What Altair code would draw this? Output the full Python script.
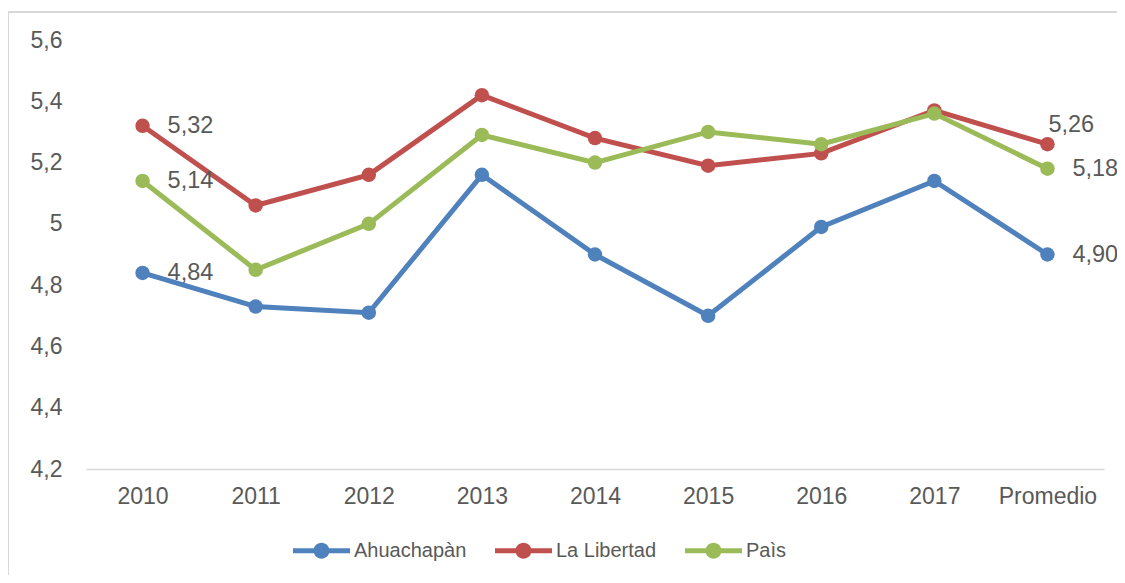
import altair as alt
import pandas as pd

categorias = ["2010", "2011", "2012", "2013", "2014", "2015", "2016", "2017", "Promedio"]
series = ["Ahuachapàn", "La Libertad", "Paìs"]
ahuachapan = [4.84, 4.73, 4.71, 5.16, 4.90, 4.70, 4.99, 5.14, 4.90]
la_libertad = [5.32, 5.06, 5.16, 5.42, 5.28, 5.19, 5.23, 5.37, 5.26]
pais = [5.14, 4.85, 5.00, 5.29, 5.20, 5.30, 5.26, 5.36, 5.18]
colores = ["#4F81BD", "#C0504D", "#9BBB59"]
y_ticks = [4.2, 4.4, 4.6, 4.8, 5.0, 5.2, 5.4, 5.6]

rows = []
for s, vals in zip(series, [ahuachapan, la_libertad, pais]):
    for c, v in zip(categorias, vals):
        rows.append({"anio": c, "serie": s, "valor": v})
df = pd.DataFrame(rows)

FONT = "Liberation Sans"
GRAY = "#595959"
W, H = 1018, 429
PAD_L, PAD_T, PAD_R, PAD_B = 78, 32, 13, 106

x_enc = alt.X("anio:N", sort=categorias,
              scale=alt.Scale(type="point", padding=0.5),
              axis=alt.Axis(title=None, labelAngle=0, ticks=False, domainColor="#D9D9D9",
                            domainWidth=1.5, labelFontSize=23, labelColor=GRAY,
                            labelPadding=16, labelFont=FONT))
y_enc = alt.Y("valor:Q", scale=alt.Scale(domain=[4.2, 5.6], nice=False, zero=False),
              axis=alt.Axis(title=None, values=y_ticks, grid=False, domain=False, ticks=False,
                            labelFontSize=23, labelColor=GRAY, labelPadding=24, labelFont=FONT,
                            labelExpr="replace(format(datum.value, '.1~f'), '.', ',')"))
color_scale = alt.Scale(domain=series, range=colores)

sym = ("M-1,-0.085 L1,-0.085 L1,0.085 L-1,0.085 Z "
       "M-0.28,0 A0.28,0.28 0 1,1 0.28,0 A0.28,0.28 0 1,1 -0.28,0 Z")
legend = alt.Legend(title=None, orient="none", direction="horizontal",
                    legendX=207, legendY=482, symbolType=sym,
                    symbolSize=3249, symbolStrokeWidth=0, symbolOpacity=1,
                    labelFontSize=20, labelColor=GRAY, labelFont=FONT,
                    labelOffset=4, columnPadding=28)
color_enc = alt.Color("serie:N", scale=color_scale, legend=legend)

base = alt.Chart(df)

lines = base.mark_line(strokeWidth=5).encode(
    x=x_enc, y=y_enc, color=color_enc, detail="serie:N")

points = base.mark_circle(size=210, opacity=1).encode(
    x=x_enc, y=y_enc, color=color_enc)

labels_a = base.transform_filter(
    "datum.anio == '2010' || (datum.anio == 'Promedio' && datum.serie != 'La Libertad')"
).transform_calculate(
    txt="replace(format(datum.valor, '.2f'), '.', ',')"
).mark_text(align="left", baseline="middle", dx=25, fontSize=23.5, color=GRAY, font=FONT).encode(
    x=x_enc, y=y_enc, text="txt:N")

labels_b = base.transform_filter(
    "datum.anio == 'Promedio' && datum.serie == 'La Libertad'"
).transform_calculate(
    txt="replace(format(datum.valor, '.2f'), '.', ',')"
).mark_text(align="left", baseline="middle", dx=1, dy=-19, fontSize=23.5, color=GRAY, font=FONT).encode(
    x=x_enc, y=y_enc, text="txt:N")

one = alt.Chart(pd.DataFrame({"k": [0]}))
border_top = one.mark_rule(color="#D9D9D9", strokeWidth=2).encode(
    x=alt.value(-78), x2=alt.value(W + PAD_R), y=alt.value(-28))
border_left = one.mark_rule(color="#D9D9D9", strokeWidth=2).encode(
    x=alt.value(-78), y=alt.value(-28), y2=alt.value(H + PAD_B))

chart = alt.layer(border_top, border_left, lines, points, labels_a, labels_b).properties(
    width=W, height=H,
    autosize=alt.AutoSizeParams(type="none"),
    padding={"left": PAD_L, "top": PAD_T, "right": PAD_R, "bottom": PAD_B},
).configure(font=FONT, background="white", view=alt.ViewConfig(stroke=None))

chart.save("out.html", embed_options={"renderer": "svg", "actions": False})
